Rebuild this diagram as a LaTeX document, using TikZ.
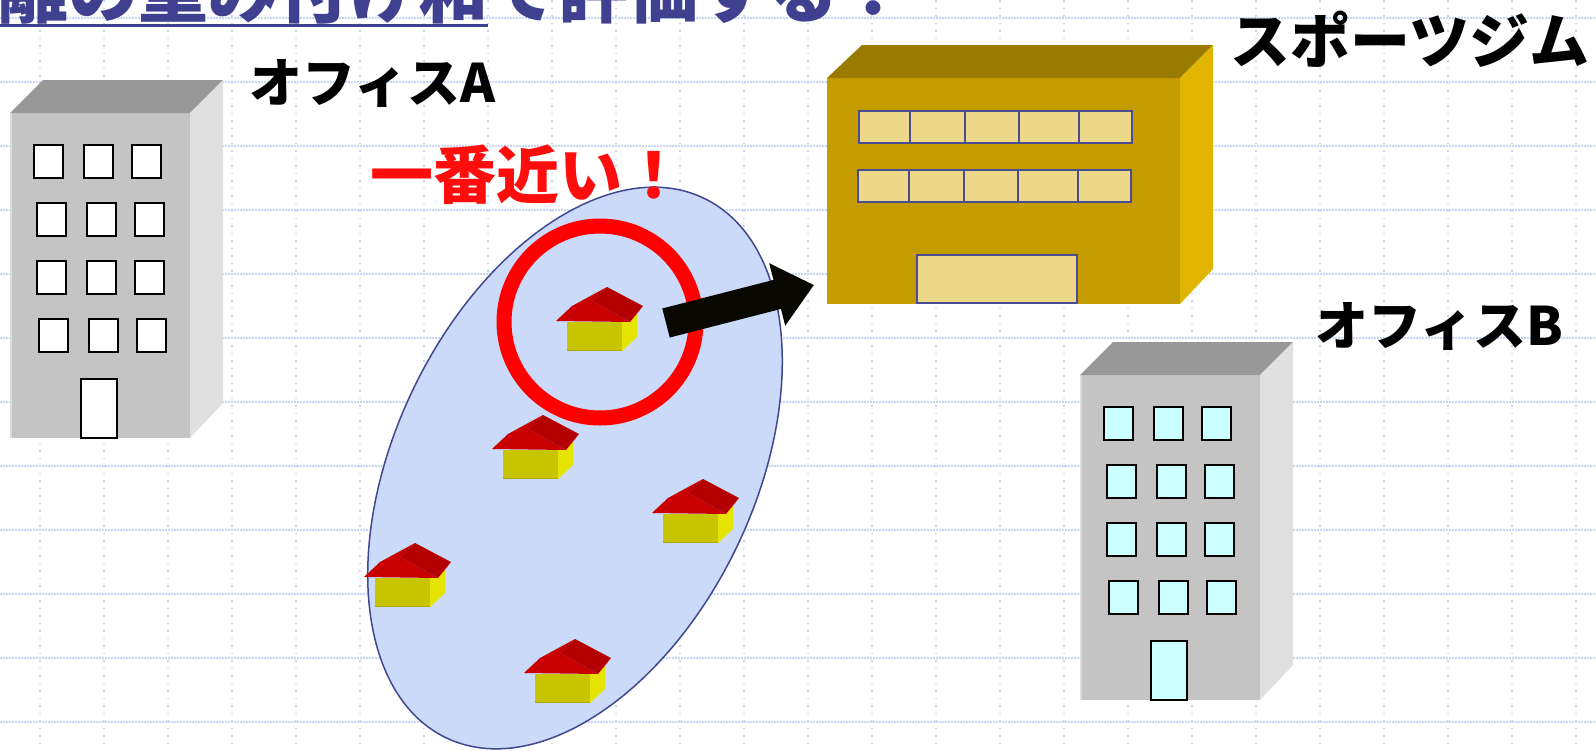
\documentclass[tikz,border=0pt]{standalone}
\usepackage{fontspec}
\newfontfamily\jpfont{Noto Sans CJK JP}
\usetikzlibrary{positioning,arrows.meta,calc}

\definecolor{gridblue}{HTML}{C8D6F6}
\definecolor{titleblue}{HTML}{404090}
\definecolor{bldfront}{HTML}{C4C4C4}
\definecolor{bldtop}{HTML}{989898}
\definecolor{bldside}{HTML}{E0E0E0}
\definecolor{winblue}{HTML}{CCFFFF}
\definecolor{gymfront}{HTML}{C49C00}
\definecolor{gymtop}{HTML}{9A7A00}
\definecolor{gymside}{HTML}{E0B400}
\definecolor{gymwin}{HTML}{ECD888}
\definecolor{gymframe}{HTML}{4A4E90}
\definecolor{areablue}{HTML}{CCDAFA}
\definecolor{areaedge}{HTML}{404890}
\definecolor{wallfront}{HTML}{C8C400}
\definecolor{wallside}{HTML}{E4E400}
\definecolor{rooffront}{HTML}{C80000}
\definecolor{roofside}{HTML}{B40000}
\definecolor{pushblack}{HTML}{080800}

% office block: #1,#2 = top-left corner of the front face, #3 = window fill
\newcommand{\officeblock}[3]{%
  \begin{scope}[shift={(#1,#2)}]
    \fill[bldfront] (0,0) rectangle (180,325);
    \draw[bldfront!60!white, line width=2pt] (1,0) -- (1,325);
    \fill[bldtop] (0,0) -- (33,-33) -- (213,-33) -- (180,0) -- cycle;
    \fill[bldside] (180,0) -- (213,-33) -- (213,290) -- (180,325) -- cycle;
    \foreach \row/\dx in {0/0,1/3,2/3,3/5}
      \foreach \col in {0,50,98}
        \draw[win, fill=#3] ({24+\dx+\col},{32+58*\row}) rectangle ++(29,33);
    \draw[win, fill=#3] (71,266) rectangle (107,325);
  \end{scope}}

% small house: #1,#2 = bottom-left corner of the front wall
\newcommand{\house}[2]{%
  \begin{scope}[shift={(#1,#2)}]
    \fill[wallfront] (0,0) rectangle (55,-29);
    \draw[wallfront!85!black, line width=1.5pt] (0,-0.75) -- (55,-0.75);
    \fill[wallside] (55,0) -- (55,-29) -- (70,-38) -- (70,-14) -- cycle;
    \fill[rooffront] (-11,-30) -- (5,-45) -- (40,-64) -- (25,-50) -- (63,-29) -- cycle;
    \fill[roofside] (25,-50) -- (40,-64) -- (76,-45) -- (63,-29) -- cycle;
  \end{scope}}

\begin{document}
\begin{tikzpicture}[x=1pt, y=-1pt,
  gridh/.style={gridblue, line width=1.2pt, dash pattern=on 1.5pt off 1.5pt},
  gridv/.style={gridblue, line width=1.2pt, dash pattern=on 1.5pt off 6pt},
  win/.style={draw=black, line width=1.6pt},
  gymwindow/.style={draw=gymframe, line width=1.3pt, fill=gymwin},
  area/.style={draw=areaedge, line width=1.5pt, fill=areablue},
  ring/.style={draw=red, line width=15pt},
  push/.style={pushblack, line width=30pt, -{Triangle[length=38pt,width=62pt]}},
  lbl/.style={font=\jpfont\bfseries\fontsize{53}{60}\selectfont, inner sep=0pt},
  hit/.style={font=\jpfont\bfseries\fontsize{63}{70}\selectfont, text=red!95!white, inner sep=0pt},
  ttl/.style={font=\jpfont\bfseries\fontsize{70}{80}\selectfont, text=titleblue, inner sep=0pt}]
\useasboundingbox (0,0) rectangle (1596,750);
\fill[white] (0,0) rectangle (1596,750);
% dotted grid
\foreach \gy in {18,82,...,722} \draw[gridh] (0,\gy) -- (1596,\gy);
\foreach \gx in {40,104,...,1576} \draw[gridv] (\gx,0) -- (\gx,750);
% heading, cut at the top edge
\node[ttl, anchor=base west] (ttlkey) at (-72,17) {距離の重み付け和};
\node[ttl, anchor=base west] (ttlrest) at (ttlkey.base east) {で評価する：};
\draw[titleblue, line width=3pt] ($(ttlkey.base west)+(0,8.5)$) -- ($(ttlkey.base east)+(0,8.5)$);
% the two offices
\officeblock{10}{113}{white}
\officeblock{1080}{375}{winblue}
% sports gym
\begin{scope}[shift={(827,78)}]
  \fill[gymfront] (0,0) rectangle (353,226);
  \fill[gymtop] (0,0) -- (35,-33) -- (386,-33) -- (353,0) -- cycle;
  \fill[gymside] (353,0) -- (386,-33) -- (386,191) -- (353,226) -- cycle;
  \foreach \wx/\wy in {32/33, 31/92}
    \foreach \a/\b in {0/51, 51/106, 106/160, 160/220, 220/273}
      \draw[gymwindow] ({\wx+\a},\wy) rectangle ({\wx+\b},{\wy+32});
  \draw[gymwindow] (90,177) rectangle (250,225);
\end{scope}
% residential area with its houses
\draw[area, rotate around={64.5:(575,468)}] (575,468) ellipse [x radius=299, y radius=180];
\house{567}{351}
\house{503}{479}
\house{663}{543}
\house{375}{607}
\house{535}{703}
% the nearest house and its trip to the gym
\coordinate (nearhouse) at (600,322);
\draw[ring] (nearhouse) circle [radius=96];
\coordinate (pushfrom) at (666,323);
\coordinate (pushto) at (814,285);
\draw[push] (pushfrom) -- (pushto);
% labels
\node[lbl, anchor=base west] (offa) at (249,102) {オフィスA};
\node[lbl, font=\jpfont\bfseries\fontsize{60}{66}\selectfont, anchor=base west] (gymname) at (1230,63) {スポーツジム};
\node[lbl, anchor=base west] (offb) at (1315,345) {オフィスB};
\node[hit, anchor=base west] (nearest) at (370,198) {一番近い！};
\end{tikzpicture}
\end{document}
